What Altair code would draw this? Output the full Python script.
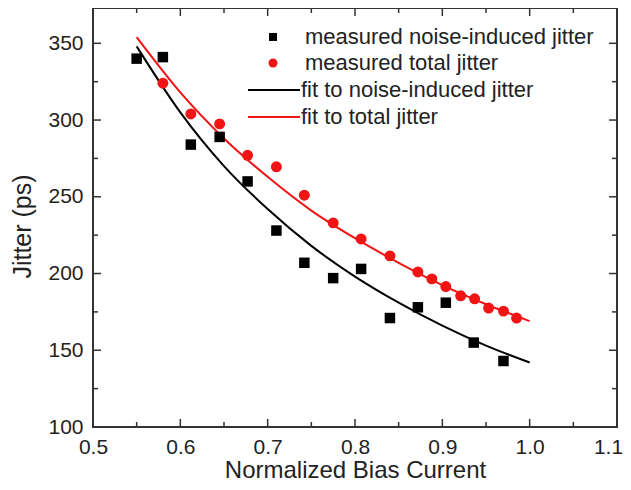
import altair as alt
import pandas as pd

# ---- data ----
noise_x = [0.55, 0.58, 0.612, 0.645, 0.677, 0.71, 0.742, 0.775, 0.807, 0.84, 0.872, 0.904, 0.936, 0.97]
noise_y = [340, 341, 284, 289, 260, 228, 207, 197, 203, 171, 178, 181, 155, 143]

total_x = [0.58, 0.612, 0.645, 0.677, 0.71, 0.742, 0.775, 0.807, 0.84, 0.872, 0.888, 0.904,
           0.921, 0.937, 0.953, 0.97, 0.985]
total_y = [324, 304, 297.5, 277, 269.5, 251, 233, 222.5, 211.5, 201, 196.5, 191.5,
           185.5, 183.5, 177.5, 175.5, 171]

fit_x = [0.55, 0.60, 0.65, 0.70, 0.75, 0.80, 0.85, 0.90, 0.95, 1.00]
fit_noise = [348, 305, 270, 242, 218, 198, 181, 166, 153, 142]
fit_total = [354, 318, 288, 263, 241, 223, 207, 192.5, 180, 169]

x_major = [0.5, 0.6, 0.7, 0.8, 0.9, 1.0, 1.1]
x_minor = [0.55, 0.65, 0.75, 0.85, 0.95, 1.05]
y_major = [100, 150, 200, 250, 300, 350]
y_minor = [125, 175, 225, 275, 325]

legend_labels = ["measured noise-induced jitter", "measured total jitter",
                 "fit to noise-induced jitter", "fit to total jitter"]

RED = "#f01414"
BLACK = "#000000"
TICK = "#333333"
FONT = "Liberation Sans"
W, H = 524, 419

noise_df = pd.DataFrame({"x": noise_x, "y": noise_y})
total_df = pd.DataFrame({"x": total_x, "y": total_y})
fitn_df = pd.DataFrame({"x": fit_x, "y": fit_noise})
fitt_df = pd.DataFrame({"x": fit_x, "y": fit_total})
xmaj_df = pd.DataFrame({"x": x_major})
xmin_df = pd.DataFrame({"x": x_minor})
ymaj_df = pd.DataFrame({"y": y_major})
ymin_df = pd.DataFrame({"y": y_minor})

xs = alt.Scale(domain=[0.5, 1.1], nice=False, zero=False)
ys = alt.Scale(domain=[100, 373], nice=False, zero=False)

x_axis = alt.Axis(values=x_major, format=".1f", grid=False, domain=False, ticks=False, tickSize=0,
                  labelFlush=False, labelOverlap=False,
                  labelOffset={"condition": {"test": "datum.value >= 1.09", "value": -9}, "value": 0},
                  labelPadding=9, labelFont=FONT, labelFontSize=21, labelColor="#222222",
                  title="Normalized Bias Current", titleFont=FONT, titleFontSize=24,
                  titleFontWeight="normal", titleColor="#222222", titlePadding=1)
y_axis = alt.Axis(values=y_major, grid=False, domain=False, ticks=False, tickSize=0,
                  labelFlush=False, labelOverlap=False,
                  labelPadding=10, labelFont=FONT, labelFontSize=21, labelColor="#222222",
                  title="Jitter (ps)", titleFont=FONT, titleFontSize=25,
                  titleFontWeight="normal", titleColor="#222222", titlePadding=12, titleY=218)

XE = alt.X("x:Q", scale=xs, axis=x_axis)
YE = alt.Y("y:Q", scale=ys, axis=y_axis)

fit_noise_line = alt.Chart(fitn_df).mark_line(color=BLACK, strokeWidth=2, interpolate="monotone").encode(x=XE, y=YE)
fit_total_line = alt.Chart(fitt_df).mark_line(color=RED, strokeWidth=2, interpolate="monotone").encode(x=XE, y=YE)
noise_pts = alt.Chart(noise_df).mark_point(shape="square", filled=True, color=BLACK, size=110,
                                           opacity=1).encode(x=XE, y=YE)
total_pts = alt.Chart(total_df).mark_point(shape="circle", filled=True, color=RED, size=120,
                                           opacity=1).encode(x=XE, y=YE)


# inward tick marks on all four sides
def xticks(df, length):
    base = alt.Chart(df).mark_rule(color=TICK, strokeWidth=1.5)
    return (base.encode(x=XE, y=alt.value(H), y2=alt.value(H - length)) +
            base.encode(x=XE, y=alt.value(0), y2=alt.value(length)))


def yticks(df, length):
    base = alt.Chart(df).mark_rule(color=TICK, strokeWidth=1.5)
    return (base.encode(y=YE, x=alt.value(0), x2=alt.value(length)) +
            base.encode(y=YE, x=alt.value(W), x2=alt.value(W - length)))


one = alt.Data(values=[{}])
leg_sq = alt.Chart(one).mark_point(shape="square", filled=True, color=BLACK, size=64, opacity=1).encode(
    x=alt.value(180), y=alt.value(29))
leg_ci = alt.Chart(one).mark_point(shape="circle", filled=True, color=RED, size=80, opacity=1).encode(
    x=alt.value(180), y=alt.value(55))
leg_l1 = alt.Chart(one).mark_rule(color=BLACK, strokeWidth=2).encode(
    x=alt.value(155), x2=alt.value(207), y=alt.value(82))
leg_l2 = alt.Chart(one).mark_rule(color=RED, strokeWidth=2).encode(
    x=alt.value(155), x2=alt.value(207), y=alt.value(109))

text_kw = dict(align="left", baseline="middle", font=FONT, fontSize=22, color="#222222")
leg_t1 = alt.Chart(one).mark_text(text=legend_labels[0], **text_kw).encode(x=alt.value(212), y=alt.value(29))
leg_t2 = alt.Chart(one).mark_text(text=legend_labels[1], **text_kw).encode(x=alt.value(212), y=alt.value(55))
leg_t3 = alt.Chart(one).mark_text(text=legend_labels[2], **text_kw).encode(x=alt.value(208), y=alt.value(82))
leg_t4 = alt.Chart(one).mark_text(text=legend_labels[3], **text_kw).encode(x=alt.value(208), y=alt.value(109))

chart = alt.layer(
    fit_noise_line, fit_total_line, noise_pts, total_pts,
    xticks(xmaj_df, 8), xticks(xmin_df, 5), yticks(ymaj_df, 8), yticks(ymin_df, 5),
    leg_sq, leg_ci, leg_l1, leg_l2, leg_t1, leg_t2, leg_t3, leg_t4,
).properties(
    width=W, height=H,
    autosize=alt.AutoSizeParams(type="none"),
    padding={"left": 85, "top": 0, "right": 6, "bottom": 55},
    background="white",
).configure_view(
    stroke="#333333", strokeWidth=2
)

chart.save("out.html", embed_options={"renderer": "svg", "actions": False})
